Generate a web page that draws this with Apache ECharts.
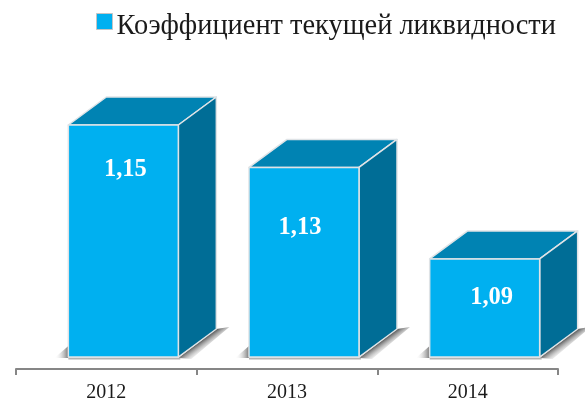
<!DOCTYPE html>
<html>
<head>
<meta charset="utf-8">
<style>
  html, body { margin: 0; padding: 0; background: #fff; }
  #chart { width: 585px; height: 403px; }
</style>
<script src="https://cdn.jsdelivr.net/npm/echarts@6/dist/echarts.min.js"></script>
</head>
<body>
<div id="chart"></div>
<script>
const seriesName = "Коэффициент текущей ликвидности";
const categories = ["2012", "2013", "2014"];
const ratioValues = [1.15, 1.131, 1.09];

// hand placed labels in the original, offset from the centre of the front face
const labelShiftX = [2, -4, 7];
const labelShiftY = [-71.5, -35, -10];

const depthX = 38;
const depthY = -28;

// square sits above the text middle in the original, the empty point at y=27 pushes it up
const legendIcon = "path://M0,0H16V16H0Z M0,27L0,27";

function fade(x, y, x2, y2, color) {
  return new echarts.graphic.LinearGradient(x, y, x2, y2, [
    { offset: 0, color: color },
    { offset: 1, color: "rgba(255,255,255,0)" }
  ], true);
}

function renderBox(params, api) {
  const i = api.value(0);
  const top = api.coord([i, api.value(1)]);
  const baseY = params.coordSys.y + params.coordSys.height;
  const w = 110;
  const x0 = top[0] + 17 - w / 2;
  const x1 = x0 + w;
  const y0 = top[1];
  const edge = { stroke: "#dfe3e6", lineWidth: 1.5, lineJoin: "round" };
  const midX = x1 + depthX / 2;
  const midY = baseY + depthY / 2;

  return {
    type: "group",
    children: [
      {
        // shadow falling to the left of the box
        type: "polygon",
        shape: { points: [[x0 - 14, baseY + 1], [x0, baseY - 11], [x0, baseY + 1]] },
        style: { fill: fade(x0, baseY, x0 - 14, baseY, "#777") }
      },
      {
        // shadow falling along the side face
        type: "polygon",
        shape: { points: [[x1, baseY + 1], [x1 + depthX, baseY + depthY], [x1 + depthX + 13, baseY + depthY - 2], [x1 + 13, baseY + 2]] },
        style: { fill: fade(midX, midY, midX + 8, midY + 11, "#4f4f4f") }
      },
      {
        type: "line",
        shape: { x1: x0, y1: baseY + 1.5, x2: x1 + 2, y2: baseY + 1.5 },
        style: { stroke: "#b3b3b3", lineWidth: 2 }
      },
      {
        type: "polygon",
        shape: { points: [[x0, y0], [x1, y0], [x1 + depthX, y0 + depthY], [x0 + depthX, y0 + depthY]] },
        style: Object.assign({ fill: "#0083b3" }, edge)
      },
      {
        type: "polygon",
        shape: { points: [[x1, y0], [x1 + depthX, y0 + depthY], [x1 + depthX, baseY + depthY], [x1, baseY]] },
        style: Object.assign({ fill: "#006d96" }, edge)
      },
      {
        type: "rect",
        shape: { x: x0, y: y0, width: w, height: baseY - y0 },
        style: Object.assign({ fill: "#00b0f0" }, edge)
      },
      {
        type: "text",
        x: (x0 + x1) / 2 + labelShiftX[i],
        y: (y0 + baseY) / 2 + labelShiftY[i],
        style: {
          text: api.value(1).toFixed(2).replace(".", ","),
          fill: "#fff",
          font: "bold 24.5px 'Liberation Serif'",
          align: "center",
          verticalAlign: "middle"
        }
      }
    ]
  };
}

const chart = echarts.init(document.getElementById("chart"));
chart.setOption({
  animation: false,
  backgroundColor: "#fff",
  legend: {
    data: [seriesName],
    left: 91,
    top: 8,
    itemWidth: 16,
    itemHeight: 27,
    itemGap: 6,
    icon: legendIcon,
    itemStyle: { color: "#00b0f0", borderColor: "#c4c4c4", borderWidth: 1 },
    textStyle: { fontFamily: "Liberation Serif", fontSize: 28.4, color: "#1a1a1a", padding: [0, 0, 0, -1] }
  },
  grid: { left: 16, right: 27, top: 102.67, bottom: 46 },
  xAxis: {
    type: "category",
    data: categories,
    offset: 12,
    axisLine: { lineStyle: { color: "#868686", width: 2 } },
    axisTick: { show: true, length: 6, alignWithLabel: false, lineStyle: { color: "#868686", width: 2 } },
    axisLabel: { fontFamily: "Liberation Serif", fontSize: 20, color: "#1a1a1a", margin: 14 }
  },
  yAxis: { type: "value", min: 1.0461, max: 1.16, show: false },
  series: [
    {
      name: seriesName,
      type: "custom",
      renderItem: renderBox,
      clip: false,
      itemStyle: { color: "#00b0f0" },
      encode: { x: 0, y: 1 },
      data: ratioValues.map((v, i) => [i, v])
    }
  ]
});
</script>
</body>
</html>
